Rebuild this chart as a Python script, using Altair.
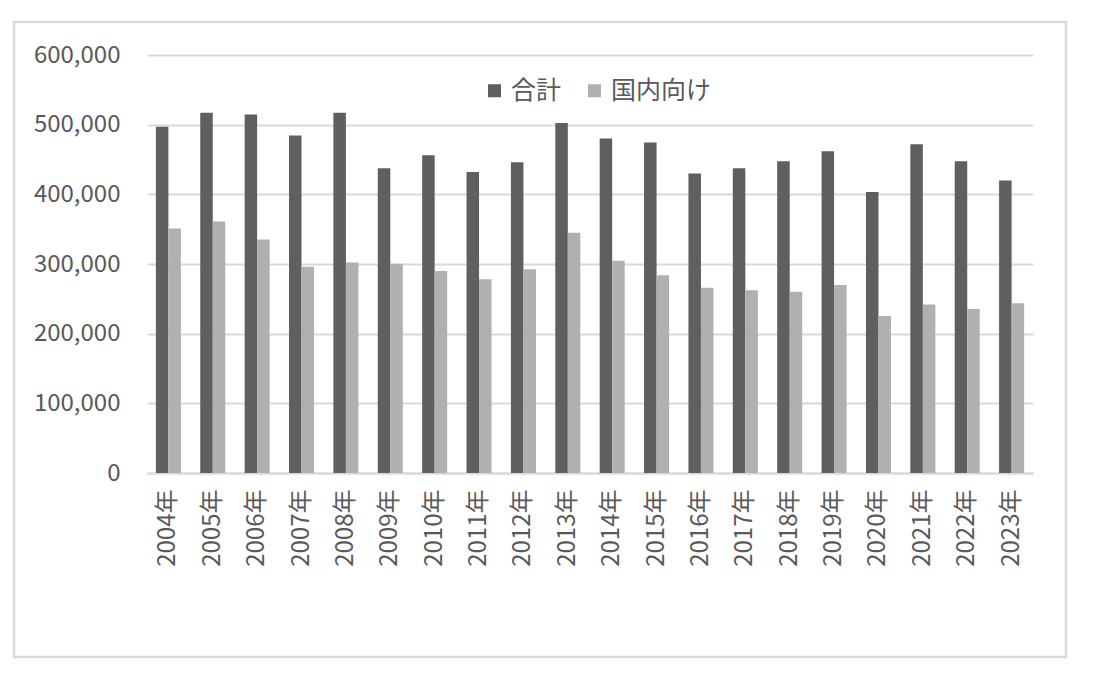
import altair as alt
import pandas as pd

years = [f"{y}年" for y in range(2004, 2024)]
total = [497000, 517000, 514500, 484500, 517000, 437500, 456000, 432000, 446000, 502500,
         480000, 474500, 430000, 437500, 447500, 462000, 403500, 472000, 447500, 420000]
domestic = [351000, 361000, 335000, 296000, 302000, 300500, 290000, 278000, 292500, 345000,
            304500, 284000, 266000, 262500, 260000, 270000, 225500, 242000, 235500, 243500]
series = ["合計", "国内向け"]
colors = ["#5f5f5f", "#b0b0b0"]
y_ticks = [0, 100000, 200000, 300000, 400000, 500000, 600000]

rows = []
for i, yr in enumerate(years):
    rows.append({"year": yr, "series": series[0], "value": total[i]})
    rows.append({"year": yr, "series": series[1], "value": domestic[i]})
df = pd.DataFrame(rows)

FONT = "Noto Sans CJK JP"
TXT = "#595959"

bars = alt.Chart(df).mark_bar().encode(
    x=alt.X("year:N", sort=years, title=None,
            scale=alt.Scale(paddingInner=0.436, paddingOuter=0.2),
            axis=alt.Axis(labelAngle=270, labelAlign="right", labelBaseline="middle",
                          labelPadding=16, ticks=False, domainColor="#d9d9d9",
                          domainWidth=2, labelFontSize=24, labelColor=TXT, labelFont=FONT)),
    xOffset=alt.XOffset("series:N", sort=series,
                        scale=alt.Scale(paddingInner=0, paddingOuter=0)),
    y=alt.Y("value:Q", title=None,
            scale=alt.Scale(domain=[0, 600000], nice=False),
            axis=alt.Axis(values=y_ticks, format=",d", domain=False, ticks=False,
                          gridColor="#d9d9d9", gridWidth=1.8, labelPadding=27,
                          labelFontSize=24, labelColor=TXT, labelFont=FONT)),
    color=alt.Color("series:N", sort=series,
                    scale=alt.Scale(domain=series, range=colors),
                    legend=alt.Legend(title=None, orient="none", legendX=335, legendY=23,
                                      direction="horizontal", symbolType="square",
                                      symbolSize=170, symbolStrokeWidth=0,
                                      labelFontSize=25, labelColor=TXT, labelFont=FONT,
                                      labelOffset=4, columnPadding=20)),
)

border = alt.Chart(pd.DataFrame({"a": [0]})).mark_rect(
    filled=False, stroke="#d9d9d9", strokeWidth=2.5
).encode(
    x=alt.value(-133), x2=alt.value(919), y=alt.value(-33), y2=alt.value(602)
)

chart = alt.layer(bars, border).properties(
    width=886, height=418,
    background="white",
    autosize=alt.AutoSizeParams(type="none"),
    padding={"left": 139, "top": 47, "right": 60, "bottom": 195},
).configure_view(strokeWidth=0, stroke="transparent")

chart.save("out.html", embed_options={"renderer": "svg", "actions": False})
